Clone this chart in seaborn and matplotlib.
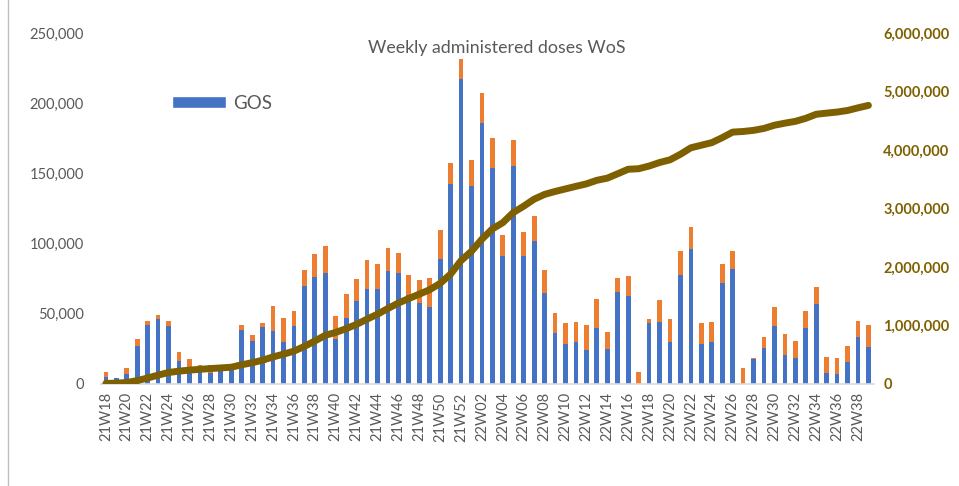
import numpy as np
import pandas as pd
import seaborn as sns
import matplotlib.pyplot as plt
from matplotlib.patches import Patch
from matplotlib.ticker import FuncFormatter, MultipleLocator

# Week labels 21W18 .. 22W39
weeks = [f"21W{w:02d}" for w in range(18, 53)] + [f"22W{w:02d}" for w in range(1, 40)]

# GOS doses per week (blue part)
gos = [5000, 4500, 6900, 27300, 42200, 46000, 41000, 16600, 12300, 9500,
       8000, 11000, 10500, 38500, 30900, 40800, 37700, 30100, 41500, 70000,
       76000, 79300, 31700, 47200, 59100, 67400, 67900, 80700, 79300, 63400,
       57500, 55100, 88800, 142200, 217000, 141300, 186100, 154100, 91200, 155000,
       91400, 102100, 64800, 36300, 28700, 29700, 24400, 40100, 24900, 65800,
       62400, 0, 43400, 43900, 29700, 77900, 96200, 28300, 29700, 71900,
       81700, 0, 18000, 25900, 41000, 20900, 18800, 39600, 57200, 8100,
       7400, 15700, 33200, 26600]

# other doses per week (orange part, stacked on top)
other = [3800, 0, 4500, 5000, 2700, 3100, 3900, 6200, 5300, 3800,
         5300, 500, 1000, 3500, 3800, 2400, 18100, 17100, 10500, 11000,
         16600, 18700, 16800, 16700, 15400, 21100, 17600, 15900, 14200, 14500,
         16600, 20200, 20900, 15400, 14500, 18200, 21400, 20900, 14900, 18800,
         16900, 17800, 16400, 14300, 15000, 14500, 17400, 20400, 12100, 9900,
         14800, 8500, 2600, 15900, 16600, 16600, 15400, 15400, 14700, 13300,
         13000, 11200, 300, 7300, 13800, 14900, 11800, 12200, 12100, 11400,
         11400, 11100, 11700, 15400]

# cumulative doses (right axis)
cumulative = [9000, 13000, 25000, 57000, 102000, 151000, 196000, 219000, 236000, 250000,
              263000, 274000, 286000, 328000, 363000, 406000, 462000, 509000, 561000, 642000,
              734000, 832000, 881000, 945000, 1019000, 1108000, 1193000, 1290000, 1383000, 1461000,
              1535000, 1611000, 1720000, 1878000, 2109000, 2269000, 2476000, 2651000, 2758000, 2931000,
              3040000, 3160000, 3241000, 3291000, 3335000, 3379000, 3421000, 3482000, 3519000, 3594000,
              3671000, 3680000, 3726000, 3786000, 3832000, 3927000, 4038000, 4082000, 4126000, 4211000,
              4306000, 4317000, 4336000, 4369000, 4424000, 4459000, 4490000, 4542000, 4611000, 4631000,
              4649000, 4676000, 4721000, 4763000]

df = pd.DataFrame({"week": weeks, "gos": gos, "other": other, "cum": cumulative})
df["total"] = df["gos"] + df["other"]

sns.set_style("white")
plt.rcParams["font.family"] = ["Lato", "DejaVu Sans"]

BLUE = "#4472C4"
ORANGE = "#ED7D31"
GOLD = "#7F6000"
GREY = "#595959"

fig = plt.figure(figsize=(9.59, 4.86), dpi=100)
ax = fig.add_axes([0.105, 0.21, 0.806, 0.722])

# stacked bars: total in orange, gos drawn over it in blue
sns.barplot(data=df, x="week", y="total", color=ORANGE, width=0.45,
            linewidth=0, saturation=1, ax=ax)
sns.barplot(data=df, x="week", y="gos", color=BLUE, width=0.45,
            linewidth=0, saturation=1, ax=ax)

ax.set_ylim(0, 250000)
ax.set_xlim(-0.5, len(weeks) - 0.5)
ax.yaxis.set_major_locator(MultipleLocator(50000))
ax.yaxis.set_major_formatter(FuncFormatter(lambda v, p: f"{int(v):,}"))
ax.set_xticks(range(0, len(weeks), 2))
ax.set_xticklabels(weeks[::2], rotation=90)
ax.tick_params(axis="x", length=0, pad=6, labelsize=10.5, labelcolor=GREY)
ax.tick_params(axis="y", length=0, pad=12, labelsize=10.5, labelcolor=GREY)
ax.set_xlabel("")
ax.set_ylabel("")
for s in ["top", "left", "right"]:
    ax.spines[s].set_visible(False)
ax.spines["bottom"].set_color("#D9D9D9")
ax.spines["bottom"].set_linewidth(1.2)

# cumulative line on secondary axis
ax2 = ax.twinx()
sns.lineplot(x=np.arange(len(weeks)), y=df["cum"], color=GOLD, linewidth=5,
             solid_capstyle="round", ax=ax2)
ax2.set_ylim(0, 6000000)
ax2.yaxis.set_major_locator(MultipleLocator(1000000))
ax2.yaxis.set_major_formatter(FuncFormatter(lambda v, p: f"{int(v):,}"))
ax2.tick_params(axis="y", length=0, pad=7, labelsize=10.5, labelcolor=GOLD)
for lab in ax2.get_yticklabels():
    lab.set_fontweight("bold")
ax2.set_ylabel("")
for s in ["top", "left", "right", "bottom"]:
    ax2.spines[s].set_visible(False)

ax.set_title("Weekly administered doses WoS", fontsize=12.8, color=GREY,
             x=0.513, y=0.92)

ax.legend(handles=[Patch(facecolor=BLUE, label="GOS")], loc="center left",
          bbox_to_anchor=(0.07, 0.80), frameon=False, fontsize=13.5,
          handlelength=2.9, handleheight=0.55, handletextpad=0.4,
          labelcolor=GREY)

# outer frame line on the left
fig.add_artist(plt.Line2D([0.008, 0.008], [0, 1], color="#BFBFBF", linewidth=1))

fig.savefig("out.png", dpi=100)
